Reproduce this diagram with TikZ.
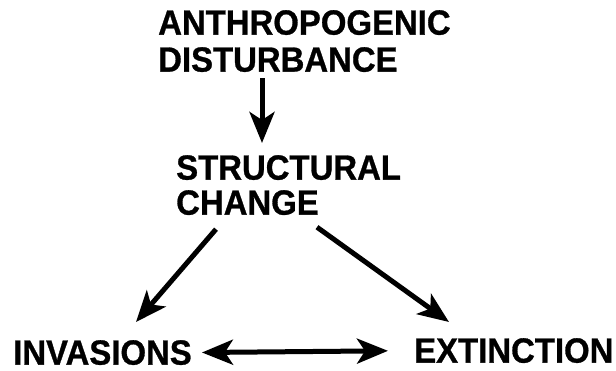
\documentclass[tikz,border=0pt]{standalone}
\usepackage{fontspec}
\setmainfont{Liberation Sans}[FakeStretch=0.94, BoldFeatures={FakeBold=0.8}]
\usetikzlibrary{arrows.meta}
\begin{document}
\begin{tikzpicture}[x=1pt, y=-1pt, >={Stealth[length=31pt, width=25pt, inset=8pt]}]
        \tikzstyle{every node}=[inner sep=0pt, anchor=north west, align=left, font=\fontsize{35}{37}\selectfont\bfseries]
        \tikzstyle{arr}=[line width=5pt, ->]
        \useasboundingbox (0,0) rectangle (616,371);
        \node (anthro) at (158,10) {ANTHROPOGENIC\\DISTURBANCE};
        \node [font=\fontsize{35}{35}\selectfont\bfseries] (struct) at (176,155) {STRUCTURAL\\CHANGE};
        \node (inv) at (13,340) {INVASIONS};
        \node (ext) at (414,338) {EXTINCTION};
        \draw [arr] ([xshift=104pt, yshift=-6pt]anthro.south west) -- ([xshift=86pt, yshift=12pt]struct.north west);
        \draw [arr] ([xshift=40pt, yshift=-14pt]struct.south west) -- ([xshift=123pt, yshift=18pt]inv.north west);
        \draw [arr] ([xshift=141pt, yshift=-12pt]struct.south west) -- ([xshift=35pt, yshift=16pt]ext.north west);
        \draw [arr, <->, shorten <=10pt, shorten >=26pt] (inv.east) -- (ext.west);
    \end{tikzpicture}
\end{document}
